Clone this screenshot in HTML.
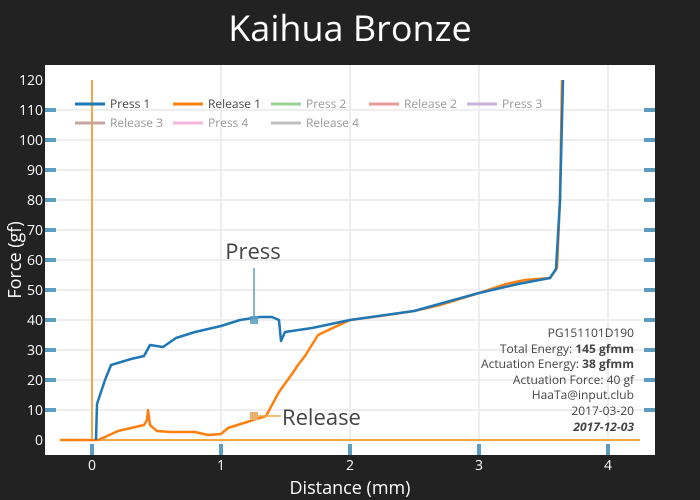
<!DOCTYPE html>
<html><head><style>
body{margin:0;background:#222;}
svg{display:block;font-family:"Open Sans","Liberation Sans",sans-serif;}
</style></head><body>
<svg width="700" height="500" xmlns="http://www.w3.org/2000/svg">
<rect width="700" height="500" fill="#222"/>
<rect x="45" y="65" width="610" height="390" fill="#fff"/>
<g stroke="#eee" stroke-width="2">
<line x1="221" y1="65" x2="221" y2="455"/><line x1="350" y1="65" x2="350" y2="455"/><line x1="479" y1="65" x2="479" y2="455"/><line x1="608" y1="65" x2="608" y2="455"/>
<line x1="45" y1="110" x2="655" y2="110"/><line x1="45" y1="140" x2="655" y2="140"/><line x1="45" y1="170" x2="655" y2="170"/><line x1="45" y1="200" x2="655" y2="200"/><line x1="45" y1="230" x2="655" y2="230"/><line x1="45" y1="260" x2="655" y2="260"/><line x1="45" y1="290" x2="655" y2="290"/><line x1="45" y1="320" x2="655" y2="320"/><line x1="45" y1="350" x2="655" y2="350"/><line x1="45" y1="380" x2="655" y2="380"/><line x1="45" y1="410" x2="655" y2="410"/>
</g>
<g stroke="#5b9ec1" stroke-width="4">
<line x1="45" y1="110" x2="56" y2="110"/><line x1="45" y1="140" x2="56" y2="140"/><line x1="45" y1="170" x2="56" y2="170"/><line x1="45" y1="200" x2="56" y2="200"/><line x1="45" y1="230" x2="56" y2="230"/><line x1="45" y1="260" x2="56" y2="260"/><line x1="45" y1="290" x2="56" y2="290"/><line x1="45" y1="320" x2="56" y2="320"/><line x1="45" y1="350" x2="56" y2="350"/><line x1="45" y1="380" x2="56" y2="380"/><line x1="45" y1="410" x2="56" y2="410"/>
<line x1="644" y1="110" x2="655" y2="110"/><line x1="644" y1="140" x2="655" y2="140"/><line x1="644" y1="170" x2="655" y2="170"/><line x1="644" y1="200" x2="655" y2="200"/><line x1="644" y1="230" x2="655" y2="230"/><line x1="644" y1="260" x2="655" y2="260"/><line x1="644" y1="290" x2="655" y2="290"/><line x1="644" y1="320" x2="655" y2="320"/><line x1="644" y1="350" x2="655" y2="350"/><line x1="644" y1="380" x2="655" y2="380"/><line x1="644" y1="410" x2="655" y2="410"/>
<line x1="92" y1="444" x2="92" y2="455"/><line x1="221" y1="444" x2="221" y2="455"/><line x1="350" y1="444" x2="350" y2="455"/><line x1="479" y1="444" x2="479" y2="455"/><line x1="608" y1="444" x2="608" y2="455"/>
</g>
<line x1="92" y1="80" x2="92" y2="440" stroke="#f0a848" stroke-width="2"/>
<line x1="60" y1="440" x2="640" y2="440" stroke="#f0a848" stroke-width="2"/>
<polyline fill="none" stroke="#ff7f0e" stroke-width="2.5" stroke-linejoin="round" points="60,440 98,440 105,437 118,431 131,428 144,425 147,420 148,410 150,425 157,431 170,432 195,432 208,435 221,434 228,428 247,422 266,416 279,392 292,374 298,365 305,356 318,335 337,326 350,320 380,316 414,311 440,305 479,293 506,284 525,280 550,278 557,268 560,200 562,80"/>
<polyline fill="none" stroke="#1f77b4" stroke-width="2.5" stroke-linejoin="round" points="96,440 97,404 105,380 111,365 131,359 144,356 150,345 163,347 176,338 195,332 221,326 240,320 260,317 272,317 279,320 281,341 285,332 312,328 350,320 414,311 479,293 518,284 550,278 556,269 560,200 563,80"/>
<line x1="254" y1="268" x2="254" y2="318" stroke="#5b9ec1" stroke-width="1.5"/>
<rect x="250" y="316" width="8" height="8" fill="#5b9ec1" opacity="0.85"/>
<line x1="254" y1="416" x2="281" y2="416" stroke="#f0a848" stroke-width="1.5"/>
<rect x="250" y="412" width="8" height="8" fill="#e8b070"/>
<text x="253" y="259" font-size="22" fill="#444" text-anchor="middle">Press</text>
<text x="282" y="425" font-size="22" fill="#444">Release</text>
<g font-size="12">
<line x1="75" y1="104" x2="105" y2="104" stroke="#1f77b4" stroke-width="3"/><text x="110" y="108" fill="#444">Press 1</text>
<line x1="173" y1="104" x2="203" y2="104" stroke="#ff7f0e" stroke-width="3"/><text x="208" y="108" fill="#444">Release 1</text>
<line x1="271" y1="104" x2="301" y2="104" stroke="#98d095" stroke-width="3"/><text x="306" y="108" fill="#999">Press 2</text>
<line x1="369" y1="104" x2="399" y2="104" stroke="#e89a9a" stroke-width="3"/><text x="404" y="108" fill="#999">Release 2</text>
<line x1="467" y1="104" x2="497" y2="104" stroke="#c7b3db" stroke-width="3"/><text x="502" y="108" fill="#999">Press 3</text>
<line x1="75" y1="123" x2="105" y2="123" stroke="#c9a59f" stroke-width="3"/><text x="110" y="127" fill="#999">Release 3</text>
<line x1="173" y1="123" x2="203" y2="123" stroke="#f5b8dc" stroke-width="3"/><text x="208" y="127" fill="#999">Press 4</text>
<line x1="271" y1="123" x2="301" y2="123" stroke="#bfbfbf" stroke-width="3"/><text x="306" y="127" fill="#999">Release 4</text>
</g>
<g font-size="12" fill="#444" text-anchor="end">
<text x="634" y="337">PG151101D190</text>
<text x="634" y="353">Total Energy: <tspan font-weight="bold">145 gfmm</tspan></text>
<text x="634" y="368">Actuation Energy: <tspan font-weight="bold">38 gfmm</tspan></text>
<text x="634" y="384">Actuation Force: 40 gf</text>
<text x="634" y="399">HaaTa@input.club</text>
<text x="634" y="415">2017-03-20</text>
<text x="634" y="431" font-weight="bold" font-style="italic">2017-12-03</text>
</g>
<g font-size="14" fill="#fff" text-anchor="end">
<text x="43" y="85">120</text><text x="43" y="115">110</text><text x="43" y="145">100</text><text x="43" y="175">90</text><text x="43" y="205">80</text><text x="43" y="235">70</text><text x="43" y="265">60</text><text x="43" y="295">50</text><text x="43" y="325">40</text><text x="43" y="355">30</text><text x="43" y="385">20</text><text x="43" y="415">10</text><text x="43" y="445">0</text>
</g>
<g font-size="14" fill="#fff" text-anchor="middle">
<text x="92" y="470">0</text><text x="221" y="470">1</text><text x="350" y="470">2</text><text x="479" y="470">3</text><text x="608" y="470">4</text>
</g>
<text x="350" y="41" font-size="36" fill="#fff" text-anchor="middle">Kaihua Bronze</text>
<text x="350" y="494" font-size="18" fill="#fff" text-anchor="middle">Distance (mm)</text>
<text transform="translate(21,260) rotate(-90)" font-size="18" fill="#fff" text-anchor="middle">Force (gf)</text>
</svg>
</body></html>
